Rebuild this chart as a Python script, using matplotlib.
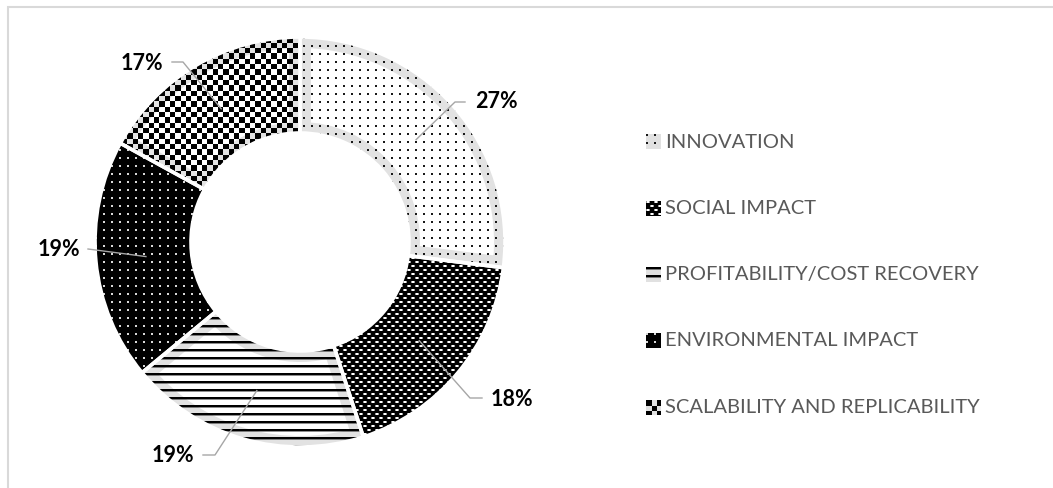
import numpy as np
import matplotlib
matplotlib.use('Agg')
import matplotlib.pyplot as plt
from matplotlib.patches import Rectangle, Wedge

# chart data
categories = ['INNOVATION', 'SOCIAL IMPACT', 'PROFITABILITY/COST RECOVERY',
              'ENVIRONMENTAL IMPACT', 'SCALABILITY AND REPLICABILITY']
shares = [27, 18, 19, 19, 17]

W, H = 1053, 488
cx, cy = 300, H - 242
R, RING = 205, 96
BAND = '#e2e2e2'

# label layout in pixels from the top-left corner: elbow, line end, text, alignment
label_layout = [
    ((455, 102), (465, 102), (475, 102), 'left'),
    ((470, 398), (482, 398), (491, 400), 'left'),
    ((215, 455), (203, 455), (194, 456), 'right'),
    ((88, 249), (88, 249), (80, 250), 'right'),
    ((183, 62), (172, 62), (163, 63), 'right'),
]


def texture(kind, n):
    yy, xx = np.mgrid[0:n, 0:n]
    a = np.zeros((n, n, 4))
    if kind == 'dots':
        m = (yy % 8 < 2) & (xx % 8 < 2)
        a[m] = (0.1, 0.1, 0.1, 1)
    elif kind == 'ovals':
        a[:] = (0, 0, 0, 1)
        px = (xx + ((yy // 4) % 2) * 4) % 8
        row = yy % 4 < 2
        a[row & (px >= 1) & (px <= 2)] = (1, 1, 1, 1)
        a[row & ((px == 0) | (px == 3))] = (0.6, 0.6, 0.6, 1)
    elif kind == 'hlines':
        a[yy % 8 < 2] = (0, 0, 0, 1)
        a[yy % 8 == 2] = (0, 0, 0, 0.45)
    elif kind == 'darkdots':
        a[:] = (0, 0, 0, 1)
        m = (yy % 8 < 2) & (xx % 8 < 2)
        a[m] = (0.85, 0.85, 0.85, 1)
    elif kind == 'checker':
        s = 5.33
        m = ((xx / s).astype(int) + (yy / s).astype(int)) % 2 == 0
        a[m] = (0, 0, 0, 1)
    return a


styles = [
    dict(tex='dots', face='white', band=True),
    dict(tex='ovals', face='black', band=False),
    dict(tex='hlines', face='white', band=True),
    dict(tex='darkdots', face='black', band=False),
    dict(tex='checker', face='white', band=True),
]

plt.rcParams['font.family'] = ['Lato', 'DejaVu Sans']
fig = plt.figure(figsize=(W / 100, H / 100), dpi=100)
ax = fig.add_axes([0, 0, 1, 1])

wedges, _ = ax.pie(shares, radius=R, center=(cx, cy), startangle=90,
                   counterclock=False,
                   wedgeprops=dict(width=RING, linewidth=0))

for w, st in zip(wedges, styles):
    w.set_facecolor(st['face'])
    if st['band']:
        # inner stroke: twice the band width, clipped to the wedge itself
        w.set_edgecolor(BAND)
        w.set_linewidth(22 * 72 / 100)
        w.set_clip_on(True)
        w.set_clip_path(w)
    im = ax.imshow(texture(st['tex'], 2 * R), extent=(cx - R, cx + R, cy - R, cy + R),
                   interpolation='none', zorder=2)
    im.set_clip_path(w)
    ax.add_patch(Wedge((cx, cy), R, w.theta1, w.theta2, width=RING, fill=False,
                       edgecolor='white', linewidth=2.6, zorder=3))

# percentage labels with leader lines
for w, v, (elbow, end, tpos, ha) in zip(wedges, shares, label_layout):
    mid = np.deg2rad((w.theta1 + w.theta2) / 2)
    ax_x = cx + 0.755 * R * np.cos(mid)
    ax_y = cy + 0.755 * R * np.sin(mid)
    ax.plot([ax_x, elbow[0], end[0]], [ax_y, H - elbow[1], H - end[1]],
            color='#a6a6a6', lw=1.0, zorder=4, clip_on=False)
    ax.text(tpos[0], H - tpos[1], f'{v}%', ha=ha, va='center', fontsize=15.5,
            fontweight='bold', color='black', zorder=5)

# legend
for i, (name, st) in enumerate(zip(categories, styles)):
    yc = H - (142 + 66.3 * i)
    icon = texture(st['tex'], 15)
    if st['band']:
        bg = np.ones((15, 15, 4))
        bg[..., :3] = 0.886
        alpha = icon[..., 3:4]
        icon = icon * alpha + bg * (1 - alpha)
        icon[..., 3] = 1
    ax.imshow(icon, extent=(646, 661, yc - 7.5, yc + 7.5), interpolation='none', zorder=2)
    ax.text(665, yc, name, ha='left', va='center', fontsize=14.5, color='#595959')

# chart area border
ax.add_patch(Rectangle((8, -20), W, H - 7 + 20, fill=False, edgecolor='#d9d9d9',
                       linewidth=1.5, zorder=1))

ax.set_xlim(0, W)
ax.set_ylim(0, H)
ax.set_aspect('auto')
ax.axis('off')

fig.savefig('out.png', dpi=100)
